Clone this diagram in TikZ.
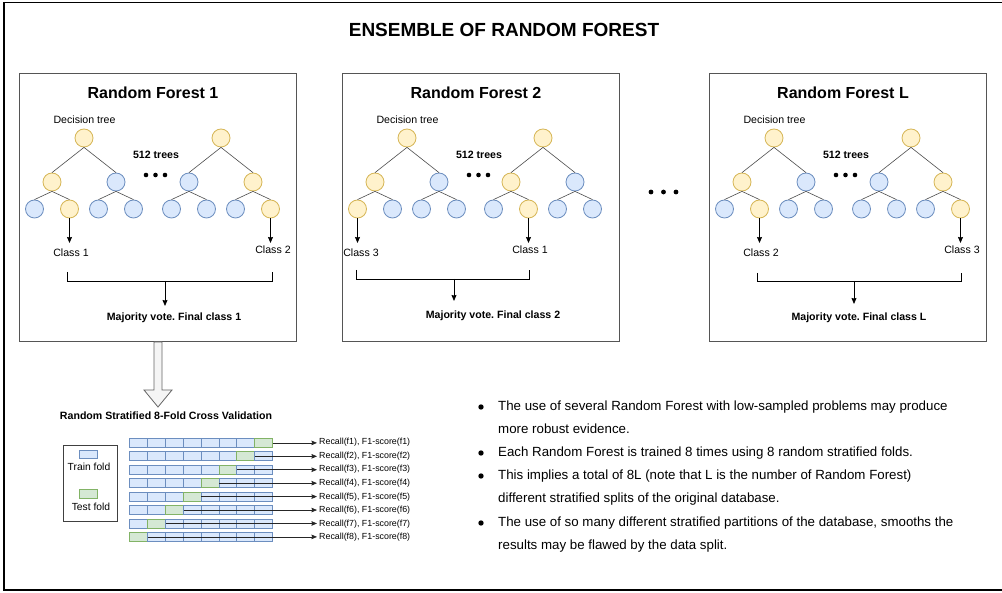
\documentclass[tikz,border=0pt]{standalone}
\usepackage{fontspec}
\setmainfont{Liberation Sans}
\frenchspacing
\usetikzlibrary{arrows.meta,calc}
\definecolor{yfill}{HTML}{FFF2CC}
\definecolor{ydraw}{HTML}{D6B656}
\definecolor{bfill}{HTML}{DAE8FC}
\definecolor{bdraw}{HTML}{6C8EBF}
\definecolor{gfill}{HTML}{D5E8D4}
\definecolor{gdraw}{HTML}{82B366}
\definecolor{boxdraw}{HTML}{555555}
\definecolor{arrfill}{HTML}{F5F5F5}
\definecolor{arrdraw}{HTML}{666666}
\tikzset{
  tn/.style={circle, minimum size=18pt, inner sep=0pt, line width=0.8pt},
  Y/.style={tn, fill=yfill, draw=ydraw},
  B/.style={tn, fill=bfill, draw=bdraw},
  tedge/.style={draw=black!70, line width=0.6pt},
  carrow/.style={draw=black, line width=0.8pt, -{Stealth[length=6pt,width=5pt,inset=0.6pt]}},
  rarrow/.style={draw=black!85, line width=0.7pt, -{Stealth[length=5.5pt,width=4.5pt,inset=0.6pt]}},
  bracket/.style={draw=black, line width=0.8pt},
  rfbox/.style={draw=boxdraw, line width=1pt, minimum width=277pt, minimum height=268pt, inner sep=0pt},
  lbl/.style={font=\fontsize{10.6}{12}\selectfont, inner sep=0pt, text height=7.6pt, text depth=2.1pt},
  blbl/.style={lbl, font=\fontsize{10.6}{12}\selectfont\bfseries},
  leglbl/.style={lbl, font=\fontsize{10.3}{12}\selectfont},
  titlelbl/.style={font=\fontsize{16}{19}\selectfont\bfseries, inner sep=0pt},
  rlbl/.style={font=\fontsize{8.85}{10}\selectfont, inner xsep=2pt, inner ysep=0pt, anchor=west},
  btxt/.style={font=\fontsize{13.3}{16}\selectfont, anchor=west, inner sep=0pt, text height=9.6pt, text depth=2.8pt},
  cellbase/.style={minimum width=17.9pt, minimum height=9pt, inner sep=0pt, line width=0.8pt, anchor=north west},
  bcell/.style={cellbase, fill=bfill, draw=bdraw},
  gcell/.style={cellbase, fill=gfill, draw=gdraw},
  legbox/.style={draw=black!75, line width=0.9pt, minimum width=54pt, minimum height=76pt, inner sep=0pt, anchor=north west},
  bigarrow/.style={fill=arrfill, draw=arrdraw, line width=0.8pt},
}
\newcommand{\drawtree}[9]{%
  \node[#3] (#1r) at (#2,138) {};
  \node[#4] (#1a) at (#2-32,182) {};
  \node[#5] (#1b) at (#2+32,182) {};
  \node[#6] (#1aa) at (#2-49.5,209) {};
  \node[#7] (#1ab) at (#2-14.5,209) {};
  \node[#8] (#1ba) at (#2+14.5,209) {};
  \node[#9] (#1bb) at (#2+49.5,209) {};
  \draw[tedge] (#1r.south) -- (#1a.north) (#1r.south) -- (#1b.north)
    (#1a.south) -- (#1aa.north) (#1a.south) -- (#1ab.north)
    (#1b.south) -- (#1ba.north) (#1b.south) -- (#1bb.north);
}
\newcommand{\forestframe}[3]{%
  \node[rfbox, anchor=north west] (#1) at (#2,73) {};
  \node[titlelbl] (#1title) at (#2+134,93) {#3};
  \node[lbl] (#1dt) at (#2+65.5,121) {Decision tree};
  \node[blbl] (#1n) at (#2+137,156) {512 trees};
  \foreach \k in {127,136.5,146} \fill (#2+\k,175) circle (2.3pt);
}
\begin{document}
\begin{tikzpicture}[x=1pt,y=-1pt]
\useasboundingbox (0,0) rectangle (1002,593);
\fill[white] (0,0) rectangle (1002,593);
% outer frame
\draw[line width=1.2pt] (1003,2.5) -- (4,2.5) -- (4,590) -- (1003,590);
\node[font=\fontsize{19}{22}\selectfont\bfseries, inner sep=0pt] (title) at (504,30) {ENSEMBLE OF RANDOM FOREST};

% ---------- Random Forest 1
\forestframe{rf1}{19}{Random Forest 1}
\drawtree{rf1t1}{84}{Y}{Y}{B}{B}{Y}{B}{B}
\drawtree{rf1t2}{221}{Y}{B}{Y}{B}{B}{B}{Y}
\coordinate (rf1e1) at (rf1t1ab |- 0,243);
\coordinate (rf1e2) at (rf1t2bb |- 0,243);
\draw[carrow] (rf1t1ab.south) -- (rf1e1);
\draw[carrow] (rf1t2bb.south) -- (rf1e2);
\node[lbl] (rf1k1) at (71,254) {Class 1};
\node[lbl] (rf1k2) at (273,251) {Class 2};
\coordinate (rf1b1) at (67,272);
\coordinate (rf1b2) at (272,272);
\coordinate (rf1bm) at (165,281);
\coordinate (rf1bt) at (165,306);
\draw[bracket] (rf1b1) -- (rf1b1 |- rf1bm) -- (rf1b2 |- rf1bm) -- (rf1b2);
\draw[carrow] (rf1bm) -- (rf1bt);
\node[blbl] (rf1mv) at (174,318) {Majority vote. Final class 1};

% ---------- Random Forest 2
\forestframe{rf2}{342}{Random Forest 2}
\drawtree{rf2t1}{407}{Y}{Y}{B}{Y}{B}{B}{B}
\drawtree{rf2t2}{543}{Y}{Y}{B}{B}{Y}{B}{B}
\coordinate (rf2e1) at (rf2t1aa |- 0,243);
\coordinate (rf2e2) at (rf2t2ab |- 0,243);
\draw[carrow] (rf2t1aa.south) -- (rf2e1);
\draw[carrow] (rf2t2ab.south) -- (rf2e2);
\node[lbl] (rf2k1) at (361,254) {Class 3};
\node[lbl] (rf2k2) at (530,251) {Class 1};
\coordinate (rf2b1) at (356,270);
\coordinate (rf2b2) at (529,270);
\coordinate (rf2bm) at (454,279);
\coordinate (rf2bt) at (454,301);
\draw[bracket] (rf2b1) -- (rf2b1 |- rf2bm) -- (rf2b2 |- rf2bm) -- (rf2b2);
\draw[carrow] (rf2bm) -- (rf2bt);
\node[blbl] (rf2mv) at (493,316) {Majority vote. Final class 2};

% ---------- Random Forest L
\forestframe{rfL}{709}{Random Forest L}
\drawtree{rfLt1}{774}{Y}{Y}{B}{B}{Y}{B}{B}
\drawtree{rfLt2}{911}{Y}{B}{Y}{B}{B}{B}{Y}
\coordinate (rfLe1) at (rfLt1ab |- 0,243);
\coordinate (rfLe2) at (rfLt2bb |- 0,243);
\draw[carrow] (rfLt1ab.south) -- (rfLe1);
\draw[carrow] (rfLt2bb.south) -- (rfLe2);
\node[lbl] (rfLk1) at (761,254) {Class 2};
\node[lbl] (rfLk2) at (962,251) {Class 3};
\coordinate (rfLb1) at (757,273);
\coordinate (rfLb2) at (961,273);
\coordinate (rfLbm) at (854,281);
\coordinate (rfLbt) at (854,304);
\draw[bracket] (rfLb1) -- (rfLb1 |- rfLbm) -- (rfLb2 |- rfLbm) -- (rfLb2);
\draw[carrow] (rfLbm) -- (rfLbt);
\node[blbl] (rfLmv) at (859,318) {Majority vote. Final class L};

% dots between forests
\foreach \k in {651,663.5,676} \fill (\k,192) circle (2.4pt);

% ---------- big hollow arrow
\draw[bigarrow] (rf1.south) ++(-4,0) -- ++(0,48) -- ++(-10,0) -- ++(14,17) -- ++(14,-17) -- ++(-10,0) -- ++(0,-48) -- cycle;
\node[blbl] (cvtitle) at (166,417) {Random Stratified 8-Fold Cross Validation};

% ---------- legend
\node[legbox] (leg) at (63,445) {};
\node[bcell, minimum width=18pt, minimum height=8.5pt] (legtr) at (79,450) {};
\node[leglbl] (legtrl) at (89,468) {Train fold};
\node[gcell, minimum width=18pt, minimum height=8.5pt] (legte) at (79,489.5) {};
\node[leglbl] (legtel) at (91,508) {Test fold};

% ---------- folds
\foreach \r in {1,...,8}{
  \foreach \c in {1,...,8}{
    \pgfmathtruncatemacro{\tc}{9-\r}
    \ifnum\c=\tc\relax \def\cs{gcell}\else \def\cs{bcell}\fi
    \node[\cs] (r\r c\c) at ({129+(\c-1)*17.9},{438+(\r-1)*13.43}) {};
  }
}
\foreach \r in {1,...,8}{
  \pgfmathtruncatemacro{\tc}{9-\r}
  \node[rlbl] (rec\r) at (317,{442.5+(\r-1)*13.6}) {Recall(f\r), F1-score(f\r)};
  \draw[rarrow] (r\r c\tc.east) -- (r\r c\tc.east -| rec\r.west);
}

% ---------- bullet text
\foreach \y in {407,453,476,523} \fill (481,\y) circle (2.7pt);
\node[btxt] (t1) at (498,407) {The use of several Random Forest with low-sampled problems may produce};
\node[btxt] (t2) at (498,430) {more robust evidence.};
\node[btxt] (t3) at (498,453) {Each Random Forest is trained 8 times using 8 random stratified folds.};
\node[btxt] (t4) at (498,476) {This implies a total of 8L (note that L is the number of Random Forest)};
\node[btxt] (t5) at (498,499) {different stratified splits of the original database.};
\node[btxt] (t6) at (498,523) {The use of so many different stratified partitions of the database, smooths the};
\node[btxt] (t7) at (498,546) {results may be flawed by the data split.};
\end{tikzpicture}
\end{document}
